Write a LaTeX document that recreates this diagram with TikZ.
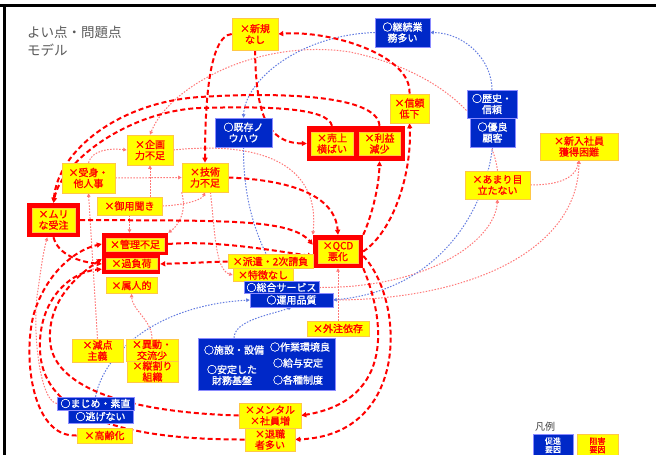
\documentclass[tikz,border=0pt]{standalone}
\usepackage{fontspec}
\newfontfamily\jp{Noto Sans CJK JP}
\newfontfamily\jpb{Noto Sans CJK JP}[FakeBold=1.3]
\usetikzlibrary{arrows.meta,calc}
\pgfdeclarelayer{bg}
\pgfsetlayers{bg,main}
\definecolor{yel}{RGB}{255,255,0}
\definecolor{goldb}{RGB}{255,200,70}
\definecolor{navyb}{RGB}{0,40,200}
\definecolor{pinkc}{RGB}{255,120,120}
\definecolor{bluec}{RGB}{100,125,225}
\definecolor{redc}{RGB}{255,0,0}
\begin{document}
\begin{tikzpicture}[x=1pt,y=-1pt,
  sz/.style 2 args={minimum width=#1pt, minimum height=#2pt},
  bfont/.style={font=\jpb\fontsize{10}{11}\selectfont},
  yb/.style={draw=goldb, line width=0.6pt, fill=yel, text=redc, bfont, align=center, inner sep=0pt},
  bb/.style={draw=blue!45, line width=0.5pt, fill=navyb, text=white, bfont, align=center, inner sep=0pt},
  redfr/.style={fill=redc, inner sep=0pt},
  wt/.style={text=white, bfont, align=center, inner sep=0pt},
  thk/.style={draw=redc, line width=2pt, dash pattern=on 5pt off 3pt, -{Triangle[length=5pt,width=5pt]}},
  pk/.style={draw=pinkc, line width=1pt, dash pattern=on 1.5pt off 1.5pt, -{Triangle[length=3.5pt,width=3.5pt]}},
  bl/.style={draw=bluec, line width=1pt, dash pattern=on 1.5pt off 1.5pt, -{Triangle[length=3.5pt,width=3.5pt]}}]
\useasboundingbox (0,0) rectangle (656,455);
\clip (0,0) rectangle (656,455);

% frame
\draw[line width=3pt] (0,5) -- (656,5);
\draw[line width=3pt] (4,5) -- (4,455);

% title
\node[anchor=west, text=black!65, font=\jp\fontsize{13.5}{15}\selectfont, inner sep=0pt] (title) at (27,32) {よい点・問題点};
\node[anchor=west, text=black!65, font=\jp\fontsize{13.5}{15}\selectfont, inner sep=0pt] (model) at (27,50) {モデル};

% red frames
\node[redfr, sz={98}{35}] (urifr) at (356,143.5) {};
\node[yb, sz={42}{23}] (uriage) at (332,143.5) {×売上\\横ばい};
\node[yb, sz={41}{23}] (rieki) at (379.5,143.5) {×利益\\減少};
\node[redfr, sz={53}{34}] (muri) at (53.5,220) {};
\node[yb, sz={43}{24}] (murit) at (53.5,220) {×ムリ\\な受注};
\node[redfr, sz={66}{22}] (kanrif) at (135,244) {};
\node[yb, sz={58}{13}] (kanri) at (135,244.5) {×管理不足};
\node[redfr, sz={58}{19}] (kafukaf) at (131,264) {};
\node[yb, sz={51}{11}] (kafuka) at (131.5,263.5) {×過負荷};
\node[redfr, sz={50}{33}] (qcdf) at (338,251.5) {};
\node[yb, sz={40}{23}] (qcd) at (338,251.5) {×QCD\\悪化};

% yellow boxes
\node[yb, sz={46}{32}] (shinki) at (255,34) {×新規\\なし};
\node[yb, sz={39}{29}] (shinrai) at (409.5,108.5) {×信頼\\低下};
\node[yb, sz={46}{30}] (kikaku) at (150,150) {×企画\\力不足};
\node[yb, sz={53}{30}] (ukemi) at (88.5,178) {×受身・\\他人事};
\node[yb, sz={46}{29}] (gijutsu) at (205,177.5) {×技術\\力不足};
\node[yb, sz={65}{18}] (goyou) at (129.5,206) {×御用聞き};
\node[yb, sz={51}{16}] (zokujin) at (131.5,285.5) {×属人的};
\node[yb, sz={85}{14}] (haken) at (270.5,261.5) {×派遣・2次請負};
\node[yb, sz={60}{13}] (tokuchou) at (263,275) {×特徴なし};
\node[yb, sz={62}{15}] (gaichuu) at (338,328.5) {×外注依存};
\node[yb, sz={51}{23}] (genten) at (97.5,350.5) {×減点\\主義};
\node[yb, sz={52}{22}] (idou) at (152,350) {×異動・\\交流少};
\node[yb, sz={51}{21}] (tatewari) at (152.5,371.5) {×縦割り\\組織};
\node[yb, sz={62}{25}] (mental) at (270,415.5) {×メンタル\\×社員増};
\node[yb, sz={50}{23}] (taishoku) at (270,439.5) {×退職\\者多い};
\node[yb, sz={55}{15}] (kourei) at (104.5,435.5) {×高齢化};
\node[yb, sz={78}{27}] (shinnyuu) at (579,146.5) {×新入社員\\獲得困難};
\node[yb, sz={65}{28}] (amari) at (497.5,185) {×あまり目\\立たない};

% blue boxes
\node[bb, sz={57}{29}] (kison) at (243.5,132.5) {○既存ノ\\ウハウ};
\node[bb, sz={55}{29}] (keizoku) at (402.5,32.5) {○継続業\\務多い};
\node[bb, sz={50}{28}] (rekishi) at (492,104) {○歴史・\\信頼};
\node[bb, sz={45}{29}] (yuuryou) at (492.5,132.5) {○優良\\顧客};
\node[bb, sz={75}{12}] (sogo) at (281.5,287.5) {○総合サービス};
\node[bb, sz={83}{14}] (unyou) at (291.5,300) {○運用品質};
\node[bb, sz={77}{13}] (majime) at (95.5,403.5) {○まじめ・素直};
\node[bb, sz={65}{13}] (nigenai) at (100.5,416.5) {○逃げない};
\node[bb, sz={137}{52}] (bigblue) at (266.5,364) {};
\node[wt] (shisetsu) at (234,350) {○施設・設備};
\node[wt] (sagyou) at (300,347) {○作業環境良};
\node[wt] (kyuuyo) at (298,363) {○給与安定};
\node[wt] (zaimu) at (232,375) {○安定した\\財務基盤};
\node[wt] (seido) at (298,380) {○各種制度};

% legend
\node[anchor=west, text=black!75, font=\jp\fontsize{10}{12}\selectfont, inner sep=0pt] (hanrei) at (535,427) {凡例};
\node[bb, sz={40}{22}, anchor=north, font=\jpb\fontsize{8}{8.5}\selectfont] (legb) at (553,434) {促進\\要因};
\node[yb, sz={41}{22}, anchor=north, font=\jpb\fontsize{8}{8.5}\selectfont] (legy) at (597.5,434) {阻害\\要因};

\begin{pgfonlayer}{bg}
\fill[white] (0,0) rectangle (656,455);
% pink dotted
\draw[pk] (amari.north) .. controls (492,125) and (445,72) .. (350,52) .. controls (260,38) and (170,85) .. (kikaku.north);
\draw[pk] (ukemi.north) .. controls (92,150) and (110,148) .. (kikaku.west);
\draw[pk] (ukemi.east) -- (gijutsu.west);
\draw[pk] (gaichuu.north) -- (qcdf.south);
\draw[pk] (genten.north) -- (ukemi.south);
\draw[pk] (goyou.east) .. controls (185,205) and (202,200) .. (gijutsu.south);
\draw[pk] (goyou.north -| kikaku) -- (kikaku.south);
\draw[pk] (goyou.south) -- (goyou.south |- kanrif.north);
\draw[pk] (idou.north) .. controls (152,320) and (132,310) .. (zokujin.south);
\draw[pk] (majime.west) .. controls (38,400) and (32,320) .. (38,290) .. controls (42,260) and (44,250) .. (muri.250);
\draw[pk] (gijutsu.-70) .. controls (215,230) and (215,270) .. (tokuchou.west);
\draw[pk] (kikaku.east) .. controls (270,140) and (320,170) .. (qcdf.north west);
\draw[pk] (amari.east) .. controls (555,185) and (575,180) .. (shinnyuu.south);
\draw[pk] (unyou.east) .. controls (470,300) and (578,250) .. (shinnyuu.south);
\draw[pk] (sogo.east) .. controls (430,288) and (495,240) .. (amari.south);
\draw[pk] (gijutsu.south west) .. controls (188,215) and (175,228) .. (kanrif.north east);
% blue dotted
\draw[bl] (rekishi.north) .. controls (492,60) and (465,33) .. (keizoku.east);
\draw[bl] (keizoku.west) .. controls (300,35) and (245,80) .. (kison.north);
\draw[bl] (kison.south) .. controls (243,210) and (262,250) .. (sogo.north);
\draw[bl] (yuuryou.south) .. controls (485,210) and (440,290) .. (unyou.east);
\draw[bl] (majime.north) .. controls (105,350) and (160,305) .. (unyou.west);
\draw[bl] (bigblue.north -| shisetsu) .. controls (235,320) and (270,315) .. (unyou.south);
% thick dashed
\draw[thk] (shinki.west) .. controls (208,36) and (205,110) .. (gijutsu.north);
\draw[thk] (shinki.south) .. controls (256,110) and (265,143) .. (urifr.west);
\draw[thk] (shinrai.north) .. controls (412,55) and (330,30) .. (shinki.east);
\draw[thk] (qcdf.east) .. controls (395,230) and (412,170) .. (shinrai.south);
\draw[thk] (qcdf.north east) .. controls (370,220) and (379,190) .. (rieki.south |- urifr.south);
\draw[thk] (gijutsu.east) .. controls (290,180) and (335,195) .. (qcdf.north);
\draw[thk] (muri.east) .. controls (220,221) and (290,218) .. (qcdf.165);
\draw[thk] (kanrif.east) .. controls (220,240) and (280,252) .. (qcdf.190);
\draw[thk] (haken.west) -- (kafukaf.east);
\draw[thk] (rieki.north |- urifr.north) .. controls (378,95) and (280,92) .. (200,97) .. controls (120,102) and (58,150) .. (muri.north);
\draw[thk] (uriage.north |- urifr.north) .. controls (328,108) and (270,106) .. (200,108) .. controls (130,111) and (62,160) .. (muri.north);
\draw[thk] (kourei.west) .. controls (30,438) and (22,350) .. (35,310) .. controls (48,272) and (75,250) .. (kanrif.west);
\draw[thk] (taishoku.west) .. controls (110,440) and (42,410) .. (40,350) .. controls (38,300) and (70,272) .. (kafukaf.190);
\draw[thk] (mental.west) .. controls (120,412) and (52,385) .. (50,340) .. controls (48,300) and (78,275) .. (kafukaf.170);
\draw[thk] (muri.south) .. controls (58,255) and (80,262) .. (kafukaf.west);
\draw[thk] (qcdf.south east) .. controls (385,320) and (395,400) .. (mental.east);
\draw[thk] (qcdf.-10) .. controls (405,300) and (410,435) .. (taishoku.east);
\end{pgfonlayer}
\end{tikzpicture}
\end{document}
